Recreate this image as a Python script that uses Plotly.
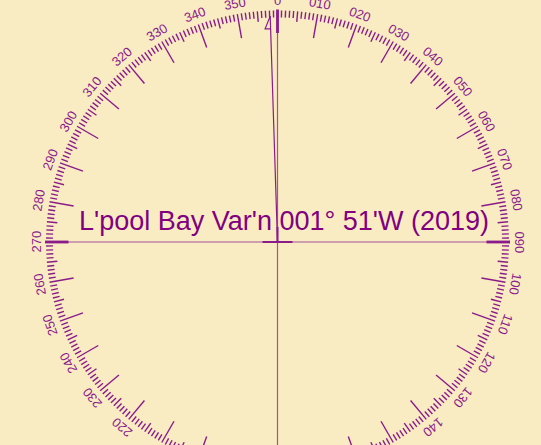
import math
import plotly.graph_objects as go

# ---- data ----
degrees = list(range(360))                      # one tick per degree
label_degrees = list(range(0, 360, 10))         # labelled bearings
label_texts = ["0"] + ["%03d" % d for d in label_degrees[1:]]
variation_deg = -(1 + 51 / 60)                  # 001° 51' W
title_text = "L'pool Bay Var'n 001° 51'W (2019)"
cardinals = [0, 90, 180, 270]

# ---- style ----
BG = "#F9ECC2"
PURPLE = "#8B1A8B"
LINE = "rgba(140,30,140,0.75)"
R_OUT = 231.5
R_LABEL = 242


def pt(bearing, r):
    a = math.radians(bearing)
    return r * math.sin(a), r * math.cos(a)


def segs(bearings, r1, r2):
    xs, ys = [], []
    for b in bearings:
        x1, y1 = pt(b, r1)
        x2, y2 = pt(b, r2)
        xs += [x1, x2, None]
        ys += [y1, y2, None]
    return xs, ys


fig = go.Figure()

minor = [d for d in degrees if d % 5 != 0]
mid = [d for d in degrees if d % 5 == 0 and d % 10 != 0]
major = [d for d in degrees if d % 10 == 0 and d not in cardinals]

for group, rin, w in [(minor, 224.5, 1.4), (mid, 221, 1.4), (major, 207, 1.4), (cardinals, 209, 2.8)]:
    xs, ys = segs(group, R_OUT + (1 if group is cardinals else 0), rin)
    fig.add_trace(go.Scatter(x=xs, y=ys, mode="lines", line=dict(color=PURPLE, width=w),
                             hoverinfo="skip", showlegend=False))

# N-S and E-W lines
xs, ys = segs([0, 180], 0, R_OUT)
fig.add_trace(go.Scatter(x=xs, y=ys, mode="lines", line=dict(color=LINE, width=1.2),
                         hoverinfo="skip", showlegend=False))
xs, ys = segs([90, 270], 0, R_OUT)
fig.add_trace(go.Scatter(x=xs, y=ys, mode="lines", line=dict(color=LINE, width=1.2),
                         hoverinfo="skip", showlegend=False))
# centre cross
xs, ys = segs([90, 270, 0], 0, 15)
fig.add_trace(go.Scatter(x=xs, y=ys, mode="lines", line=dict(color=PURPLE, width=2),
                         hoverinfo="skip", showlegend=False))

# variation line with half arrow head
tip = pt(variation_deg, 226)
base = pt(variation_deg, 213.5)
perp = math.radians(variation_deg - 90)
barb = (base[0] + 5.5 * math.sin(perp), base[1] + 5.5 * math.cos(perp))
fig.add_trace(go.Scatter(x=[0, tip[0], barb[0], base[0]], y=[0, tip[1], barb[1], base[1]],
                         mode="lines", line=dict(color=PURPLE, width=1.2),
                         hoverinfo="skip", showlegend=False))

annotations = []
for d, t in zip(label_degrees, label_texts):
    x, y = pt(d, R_LABEL)
    ta = d if d <= 180 else d - 360
    annotations.append(dict(x=x, y=y, text=t, showarrow=False, textangle=ta,
                            xanchor="center", yanchor="middle",
                            font=dict(family="Liberation Sans, Arial", size=13, color=PURPLE)))

annotations.append(dict(x=6.5, y=21, text=title_text, showarrow=False,
                        xanchor="center", yanchor="middle",
                        font=dict(family="Liberation Sans, Arial", size=27, color="#800080")))

fig.update_layout(
    width=541, height=445,
    margin=dict(l=0, r=0, t=0, b=0),
    paper_bgcolor=BG, plot_bgcolor=BG,
    xaxis=dict(range=[-277.5, 263.5], visible=False, fixedrange=True),
    yaxis=dict(range=[-203, 242], visible=False, fixedrange=True),
    annotations=annotations,
    showlegend=False,
)

fig.write_html("out.html",
               config={"displayModeBar": False, "staticPlot": True},
               post_script="document.body.style.margin='0';document.body.style.overflow='hidden';"
                           "document.body.style.background='" + BG + "';")
